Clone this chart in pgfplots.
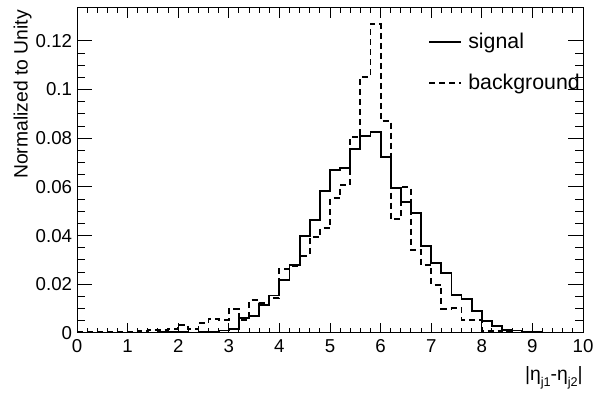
\documentclass[border=0pt]{standalone}
\usepackage{pgfplots}
\pgfplotsset{compat=1.18}
\usepackage{pgfplotstable}
\usepackage{fontspec}
\setmainfont{Liberation Sans}

\pgfplotstableread{
x    sig     bkg
0.0  0.0001  0.0003
0.2  0.0001  0.0003
0.4  0.0001  0.0003
0.6  0.0001  0.0003
0.8  0.0002  0.0003
1.0  0.0002  0.0004
1.2  0.0002  0.0008
1.4  0.0002  0.0012
1.6  0.0003  0.0013
1.8  0.0003  0.0015
2.0  0.0003  0.0034
2.2  0.0002  0.0016
2.4  0.0003  0.0041
2.6  0.0006  0.0058
2.8  0.0010  0.0055
3.0  0.0015  0.0100
3.2  0.0060  0.0052
3.4  0.0070  0.0134
3.6  0.0116  0.0122
3.8  0.0154  0.0143
4.0  0.0216  0.0263
4.2  0.0281  0.0274
4.4  0.0398  0.0318
4.6  0.0463  0.0393
4.8  0.0582  0.0430
5.0  0.0668  0.0553
5.2  0.0678  0.0608
5.4  0.0754  0.0806
5.6  0.0809  0.1053
5.8  0.0827  0.1269
6.0  0.0722  0.0872
6.2  0.0597  0.0467
6.4  0.0539  0.0598
6.6  0.0494  0.0341
6.8  0.0357  0.0279
7.0  0.0286  0.0197
7.2  0.0248  0.0100
7.4  0.0157  0.0102
7.6  0.0140  0.0055
7.8  0.0092  0.0055
8.0  0.0051  0.0008
8.2  0.0029  0.0008
8.4  0.0014  0.0003
8.6  0.0010  0.0002
8.8  0.0004  0.0001
9.0  0.0003  0.0001
9.2  0.0001  0.0001
9.4  0.0001  0.0001
9.6  0.0001  0.0000
9.8  0.0001  0.0000
10.0 0.0001  0.0000
}\hist

\pgfplotsset{
  frame/.style={
    at={(57.75pt,48.75pt)}, anchor=south west, scale only axis,
    width=379.5pt, height=243.75pt,
    xmin=0, xmax=10, ymin=0, ymax=0.1335,
    tick align=inside,
    axis line style={line width=0.75pt},
    every tick/.style={line width=0.75pt, black},
    /pgf/number format/assume math mode=true,
    scaled y ticks=false,
    tick label style={font=\fontsize{14}{16}\selectfont},
  }
}

\begin{document}
\fontsize{14}{16}\selectfont
\begin{tikzpicture}
\useasboundingbox (0,0) rectangle (450pt,298.5pt);
\begin{axis}[frame,
  xtick={0,1,...,10}, minor x tick num=4,
  ytick=\empty,
  major tick length=7.5pt, minor tick length=3.75pt,
  xticklabel style={inner sep=0pt, yshift=-4.5pt},
  xlabel={|η\raisebox{-0.6ex}{\fontsize{9.5}{10}\selectfont j1}-η\raisebox{-0.6ex}{\fontsize{9.5}{10}\selectfont j2}|},
  xlabel style={at={(axis description cs:1,0)}, anchor=north east, inner sep=0pt, yshift=-25pt, font=\fontsize{14.5}{16}\selectfont},
  legend cell align=left,
  legend image code/.code={\draw[#1] (0pt,0pt) -- (24pt,0pt);},
  legend style={draw=none, fill=none, inner sep=0pt, at={(0.694,0.923)}, anchor=north west,
    nodes={inner sep=0pt}, row sep=17pt, column sep=4.5pt, font=\fontsize{16}{18}\selectfont},
]
\addplot[const plot mark left, line width=1.4pt, black] table[x=x, y=sig]{\hist};
\addlegendentry{signal}
\addplot[const plot mark left, line width=1.4pt, black, dash pattern=on 4.5pt off 3pt] table[x=x, y=bkg]{\hist};
\addlegendentry{background}
\end{axis}
\begin{axis}[frame,
  xtick=\empty,
  ytick={0,0.02,0.04,0.06,0.08,0.1,0.12}, minor y tick num=3,
  major tick length=11pt, minor tick length=6pt,
  yticklabel style={inner sep=0pt, xshift=-3.5pt, /pgf/number format/fixed, /pgf/number format/precision=2},
  ylabel={Normalized to Unity},
  ylabel style={at={(axis description cs:-0.089,0.994)}, anchor=south east, inner sep=0pt, font=\fontsize{14.5}{16}\selectfont},
]
\end{axis}
\end{tikzpicture}
\end{document}
